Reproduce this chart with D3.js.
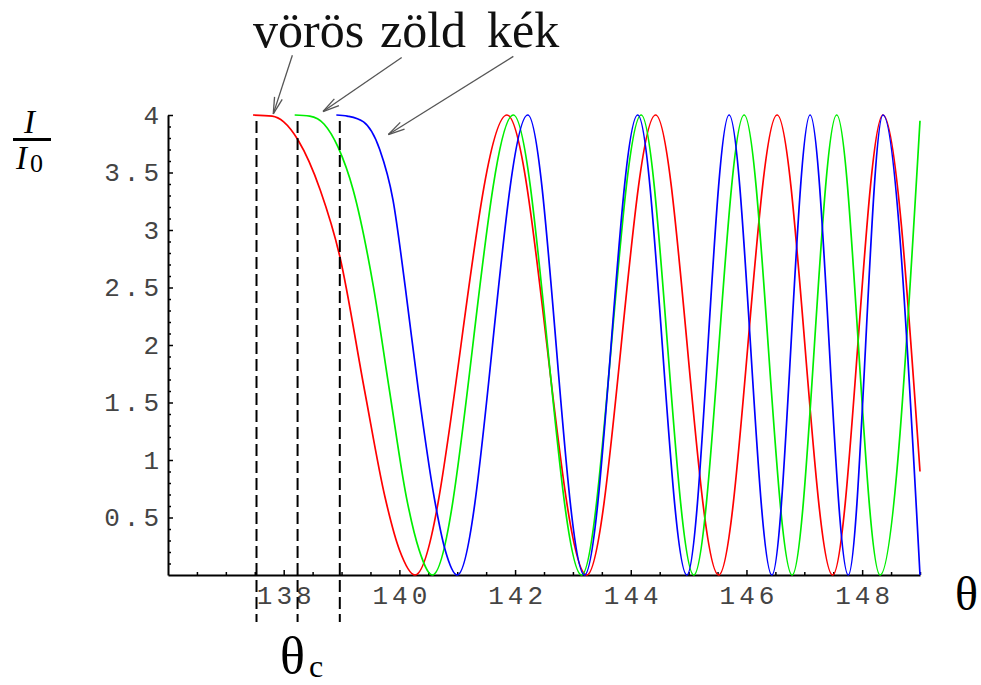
<!DOCTYPE html>
<html>
<head>
<meta charset="utf-8">
<script src="https://cdn.jsdelivr.net/npm/d3@7"></script>
<style>
  html, body { margin: 0; padding: 0; background: #fff; }
  svg { display: block; }
</style>
</head>
<body>
<svg id="chart" width="981" height="685"></svg>
<script>
// Reflected intensity I/I0 versus angle θ (degrees) for three wavelengths.
const xDomain = [136, 149];
const yDomain = [0, 4];

const xTickValues = [138, 140, 142, 144, 146, 148];
const yTickValues = [0.5, 1, 1.5, 2, 2.5, 3, 3.5, 4];
const yTickLabels = ["0.5", "1", "1.5", "2", "2.5", "3", "3.5", "4"];

// critical angles θc (dashed markers)
const criticalAngles = [137.53, 138.24, 138.97];

// red (vörös)
const redTheta = [137.47, 137.8, 138.0, 138.25, 138.63, 138.97, 139.4, 139.75, 140.0, 140.27,
                  141.86, 143.24, 144.43, 145.52, 146.53, 147.49, 148.36, 149.0];
const redI     = [4, 3.99, 3.94, 3.78, 3.35, 2.77, 1.60, 0.68, 0.22, 0,
                  4, 0, 4, 0, 4, 0, 4, 0.9];

// green (zöld)
const greenTheta = [138.19, 138.45, 138.7, 138.94, 139.2, 139.55, 139.83, 140.12, 140.34, 140.57,
                    141.97, 143.15, 144.18, 145.09, 145.96, 146.79, 147.56, 148.31, 149.0];
const greenI     = [4, 3.99, 3.92, 3.72, 3.35, 2.51, 1.60, 0.68, 0.22, 0,
                    4, 0, 4, 0, 4, 0, 4, 0, 3.95];

// blue (kék)
const blueTheta = [138.91, 139.1, 139.38, 139.66, 139.89, 140.1, 140.33, 140.6, 140.79, 141.0,
                   142.22, 143.2, 144.12, 144.97, 145.70, 146.44, 147.10, 147.76, 148.36, 149.0];
const blueI     = [4, 3.99, 3.94, 3.70, 3.26, 2.51, 1.60, 0.68, 0.22, 0,
                   4, 0, 4, 0, 4, 0, 4, 0, 4, 0];

const seriesNames  = ["vörös", "zöld", "kék"];
const seriesColors = ["#ff0000", "#00ee00", "#0000ff"];
// arrow tail / tip in data coordinates, one per series
const arrowTail = [[138.15, 4.52], [140.04, 4.50], [141.97, 4.51]];
const arrowTip  = [[137.82, 4.01], [138.68, 4.03], [139.81, 3.83]];

const svg = d3.select("#chart");
const x = d3.scaleLinear().domain(xDomain).range([168, 920]);
const y = d3.scaleLinear().domain(yDomain).range([575, 115]);

const tickFont = "'Liberation Mono', 'DejaVu Sans Mono', monospace";
const serif = "'Liberation Serif', 'DejaVu Serif', serif";

// ---- axes ----
const minorX = d3.range(136.5, 149.01, 0.5).filter(v => !xTickValues.includes(v));
svg.append("g")
  .attr("transform", `translate(0,${y(0)})`)
  .call(d3.axisBottom(x).tickValues(minorX).tickSizeInner(-3).tickSizeOuter(0).tickFormat(""))
  .call(g => g.select(".domain").remove())
  .call(g => g.selectAll("line").attr("stroke", "#000").attr("stroke-width", 1.5));

const xAxis = svg.append("g")
  .attr("transform", `translate(0,${y(0)})`)
  .call(d3.axisBottom(x).tickValues(xTickValues).tickSizeInner(-5).tickSizeOuter(0)
        .tickFormat(d3.format("d")).tickPadding(11));
xAxis.select(".domain").attr("stroke", "#000").attr("stroke-width", 2);
xAxis.selectAll("line").attr("stroke", "#000").attr("stroke-width", 1.5);
xAxis.selectAll("text")
  .attr("font-family", tickFont).attr("font-size", 26).attr("fill", "#444")
  .attr("letter-spacing", 4).attr("dx", 2);

const minorY = d3.range(0.1, 4.0, 0.1).filter(v => Math.abs(v * 2 - Math.round(v * 2)) > 1e-6);
svg.append("g")
  .attr("transform", `translate(${x(xDomain[0])},0)`)
  .call(d3.axisLeft(y).tickValues(minorY).tickSizeInner(-3).tickSizeOuter(0).tickFormat(""))
  .call(g => g.select(".domain").remove())
  .call(g => g.selectAll("line").attr("stroke", "#000").attr("stroke-width", 1.5));

const yAxis = svg.append("g")
  .attr("transform", `translate(${x(xDomain[0])},0)`)
  .call(d3.axisLeft(y).tickValues(yTickValues).tickSizeInner(-5).tickSizeOuter(0)
        .tickFormat((d, i) => yTickLabels[i]).tickPadding(9));
yAxis.select(".domain").attr("stroke", "#000").attr("stroke-width", 2);
yAxis.selectAll("line").attr("stroke", "#000").attr("stroke-width", 1.5);
yAxis.selectAll("text")
  .attr("font-family", tickFont).attr("font-size", 26).attr("fill", "#444")
  .attr("letter-spacing", 4).attr("dx", 4);

// ---- curves ----
const line = d3.line()
  .x(d => x(d[0])).y(d => y(d[1]))
  .curve(d3.curveMonotoneX);

const series = [
  d3.zip(redTheta, redI),
  d3.zip(greenTheta, greenI),
  d3.zip(blueTheta, blueI)
];

svg.append("g").selectAll("path")
  .data(series)
  .join("path")
  .attr("d", line)
  .attr("fill", "none")
  .attr("stroke", (d, i) => seriesColors[i])
  .attr("stroke-width", 1.7);

// ---- critical-angle markers ----
svg.append("g").selectAll("line")
  .data(criticalAngles)
  .join("line")
  .attr("x1", d => x(d)).attr("x2", d => x(d))
  .attr("y1", y(4) + 6).attr("y2", 622)
  .attr("stroke", "#000")
  .attr("stroke-width", 2)
  .attr("stroke-dasharray", "12,5");

// ---- annotations ----
const ann = svg.append("g");
seriesNames.forEach((name, i) => {
  const [tx, ty] = [x(arrowTail[i][0]), y(arrowTail[i][1])];
  const [hx, hy] = [x(arrowTip[i][0]), y(arrowTip[i][1])];
  ann.append("line")
    .attr("x1", tx).attr("y1", ty).attr("x2", hx).attr("y2", hy)
    .attr("stroke", "#555").attr("stroke-width", 1.3);
  const ang = Math.atan2(ty - hy, tx - hx);
  [-0.24, 0.24].forEach(da => {
    ann.append("line")
      .attr("x1", hx).attr("y1", hy)
      .attr("x2", hx + 17 * Math.cos(ang + da))
      .attr("y2", hy + 17 * Math.sin(ang + da))
      .attr("stroke", "#555").attr("stroke-width", 1.3);
  });
});

const labelX = [253, 380, 487];
ann.selectAll("text.name")
  .data(seriesNames)
  .join("text")
  .attr("class", "name")
  .attr("x", (d, i) => labelX[i])
  .attr("y", 47)
  .attr("font-family", serif)
  .attr("font-size", 50)
  .attr("fill", "#111")
  .text(d => d);

// y label: I / I0
const yl = svg.append("g").attr("font-family", serif).attr("fill", "#000");
yl.append("text").attr("x", 24).attr("y", 133).attr("font-size", 33).attr("font-style", "italic").text("I");
yl.append("line").attr("x1", 13).attr("x2", 51).attr("y1", 139.5).attr("y2", 139.5)
  .attr("stroke", "#000").attr("stroke-width", 3);
yl.append("text").attr("x", 16).attr("y", 169).attr("font-size", 33).attr("font-style", "italic").text("I");
yl.append("text").attr("x", 30).attr("y", 172).attr("font-size", 26).text("0");

// x label θ
svg.append("text").attr("x", 955).attr("y", 610)
  .attr("font-family", serif).attr("font-size", 48).text("θ");

// θc label
const tc = svg.append("g").attr("font-family", serif);
tc.append("text").attr("x", 280).attr("y", 673).attr("font-size", 52).text("θ");
tc.append("text").attr("x", 309).attr("y", 677).attr("font-size", 32).text("c");
</script>
</body>
</html>
